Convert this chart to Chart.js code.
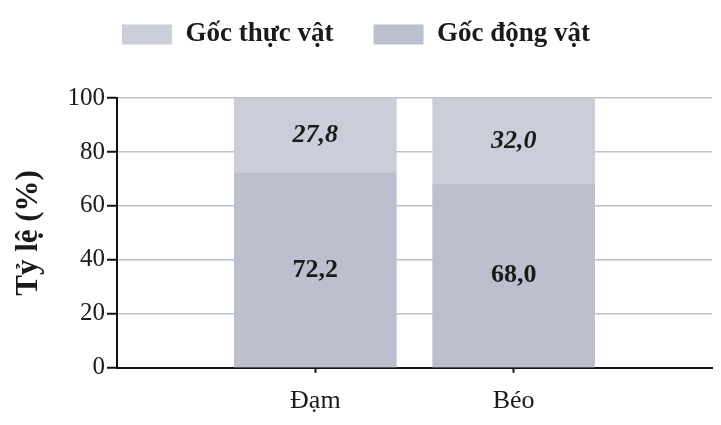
<!DOCTYPE html>
<html>
<head>
<meta charset="utf-8">
<script src="https://cdn.jsdelivr.net/npm/chart.js@4/dist/chart.umd.min.js"></script>
<style>
  html, body { margin: 0; padding: 0; background: #ffffff; }
  #wrap { width: 721px; height: 425px; position: relative; }
</style>
</head>
<body>
<div id="wrap"><canvas id="c" width="721" height="425"></canvas></div>
<script>
const categories = ['Đạm', 'Béo'];
const seriesNames = ['Gốc thực vật', 'Gốc động vật'];
const plantValues = [27.8, 32.0];
const animalValues = [72.2, 68.0];
const yTicks = [0, 20, 40, 60, 80, 100];
const yAxisTitle = 'Tỷ lệ (%)';

const SERIF = "'Liberation Serif', 'DejaVu Serif', serif";

const valueLabels = {
  id: 'valueLabels',
  afterDatasetsDraw(chart) {
    const ctx = chart.ctx;
    ctx.save();
    ctx.textAlign = 'center';
    ctx.textBaseline = 'middle';
    ctx.fillStyle = '#1a1a1a';
    chart.data.datasets.forEach((ds, di) => {
      const meta = chart.getDatasetMeta(di);
      if (meta.hidden) return;
      ctx.font = (ds.labelItalic ? 'italic ' : '') + 'bold 26px ' + SERIF;
      meta.data.forEach((el, i) => {
        const v = ds.data[i].y;
        const txt = v.toFixed(1).replace('.', ',');
        ctx.fillText(txt, el.x, (el.y + el.base) / 2);
      });
    });
    ctx.restore();
  }
};

// extra space between the legend and the plot
const legendGap = {
  id: 'legendGap',
  afterInit(chart) {
    const lg = chart.legend;
    if (!lg || lg._gapPatched) return;
    const orig = lg.fit;
    lg.fit = function () { orig.call(this); this.height += 40; };
    lg._gapPatched = true;
  }
};

new Chart(document.getElementById('c'), {
  type: 'bar',
  data: {
    datasets: [
      {
        label: seriesNames[1],
        data: categories.map((c, i) => ({ x: i + 1, y: animalValues[i] })),
        backgroundColor: '#bcbfcd',
        borderWidth: 0,
        barThickness: 162,
        labelItalic: false
      },
      {
        label: seriesNames[0],
        data: categories.map((c, i) => ({ x: i + 1, y: plantValues[i] })),
        backgroundColor: '#cbcdd9',
        borderWidth: 0,
        barThickness: 162,
        labelItalic: true
      }
    ]
  },
  options: {
    responsive: false,
    animation: false,
    layout: { padding: { left: 0, right: 9, top: -19, bottom: -5 } },
    plugins: {
      tooltip: { enabled: false },
      legend: {
        position: 'top',
        reverse: true,
        labels: {
          boxWidth: 50,
          boxHeight: 20,
          padding: 40,
          color: '#1a1a1a',
          font: { family: SERIF, size: 27, weight: 'bold' }
        }
      }
    },
    scales: {
      x: {
        type: 'linear',
        min: 0,
        max: 3,
        offset: false,
        stacked: true,
        afterBuildTicks: (scale) => { scale.ticks = categories.map((c, i) => ({ value: i + 1 })); },
        ticks: {
          callback: (v) => categories[v - 1] || '',
          color: '#1a1a1a',
          font: { family: SERIF, size: 26 },
          padding: 13,
          maxRotation: 0,
          autoSkip: false
        },
        grid: { offset: false, drawOnChartArea: false, drawTicks: true, tickLength: 5, tickColor: '#111', tickWidth: 2 },
        border: { display: true, color: '#111', width: 2 }
      },
      y: {
        stacked: true,
        min: 0,
        max: 100,
        afterBuildTicks: (scale) => { scale.ticks = yTicks.map(v => ({ value: v })); },
        afterFit: (scale) => { scale.width = 117; },
        ticks: {
          color: '#1a1a1a',
          font: { family: SERIF, size: 25 },
          padding: 2
        },
        grid: { color: '#c0c1cb', lineWidth: 1.5, tickLength: 10, tickColor: '#111', tickWidth: 2 },
        border: { display: true, color: '#111', width: 2 },
        title: {
          display: true,
          text: yAxisTitle,
          color: '#1a1a1a',
          font: { family: SERIF, size: 31, weight: 'bold' },
          padding: { top: 10, bottom: 0 }
        }
      }
    }
  },
  plugins: [valueLabels, legendGap]
});
</script>
</body>
</html>
